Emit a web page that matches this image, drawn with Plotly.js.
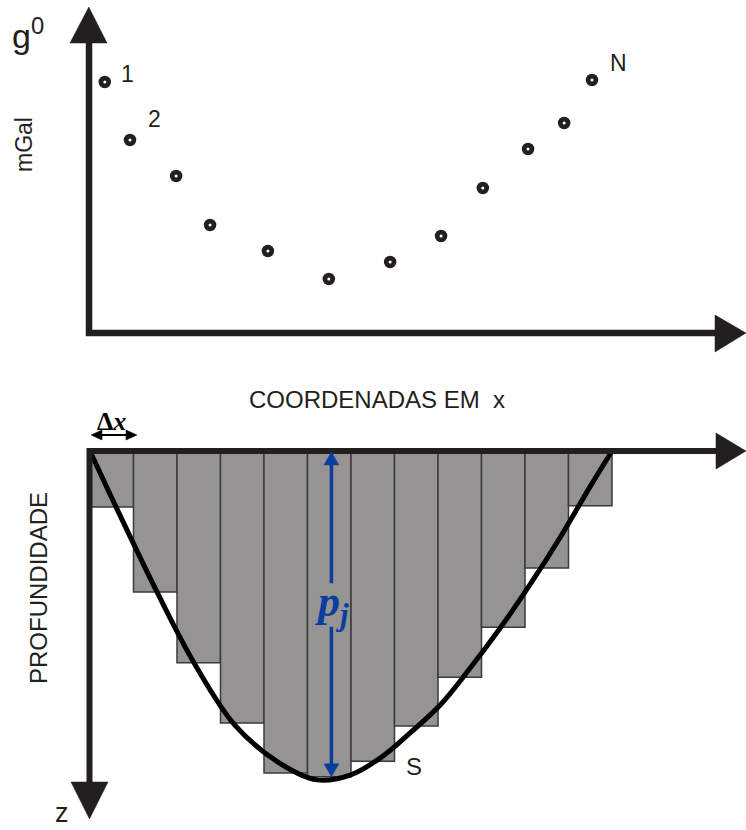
<!DOCTYPE html>
<html>
<head>
<meta charset="utf-8">
<script src="https://cdn.plot.ly/plotly-3.0.1.min.js"></script>
<style>
  html, body { margin: 0; padding: 0; background: #ffffff; }
  #chart { width: 746px; height: 830px; }
</style>
</head>
<body>
<div id="chart"></div>
<script>
// Gravity stations: horizontal coordinate (units of Δx) and observed anomaly g0
const stationX = [0.34, 0.92, 1.98, 2.76, 4.09, 5.49, 6.90, 8.07, 9.03, 10.07, 10.90, 11.54];
const gravity  = [25.1, 19.3, 15.7, 10.8, 8.2, 5.4, 7.1, 9.7, 14.5, 18.4, 21.0, 25.3];
const stationLabels = ['1', '2', 'N'];
const labelledStations = [0, 1, 11];

// Prism columns: centre of each Δx-wide column and its depth p
const prismX = [0.5, 1.5, 2.5, 3.5, 4.5, 5.5, 6.5, 7.5, 8.5, 9.5, 10.5, 11.5];
const prismDepth = [1.29, 3.24, 4.87, 6.25, 7.40, 7.49, 7.13, 6.32, 5.20, 4.05, 2.69, 1.26];

// Basement surface S
const surfaceX = [0.00, 0.60, 1.54, 2.41, 3.33, 4.32, 5.22, 5.98, 6.67, 7.36, 8.05, 8.74, 9.43, 10.11, 10.80, 11.49, 12.00];
const surfaceDepth = [0.00, 1.29, 3.24, 4.90, 6.30, 7.15, 7.56, 7.45, 7.06, 6.48, 5.84, 4.99, 4.07, 3.08, 2.00, 0.83, 0.00];

// Column j highlighted with its depth arrow
const jIndex = 5;

const W = 746, H = 830;
const INK = '#231f20';
const BLUE = '#0a3d9e';
const px = x => x / W;
const py = y => 1 - y / H;

const traces = [
  {
    type: 'bar', x: prismX, y: prismDepth, base: 0, width: 1,
    xaxis: 'x', yaxis: 'y2',
    marker: { color: '#959492', line: { color: '#3a3a3a', width: 1.5 } },
    hoverinfo: 'skip'
  },
  {
    type: 'scatter', mode: 'lines', x: surfaceX, y: surfaceDepth,
    xaxis: 'x', yaxis: 'y2',
    line: { color: '#000000', width: 5, shape: 'spline', smoothing: 1 },
    hoverinfo: 'skip'
  },
  {
    type: 'scatter', mode: 'markers', x: stationX, y: gravity,
    xaxis: 'x', yaxis: 'y',
    marker: { color: INK, size: 12.5 },
    hoverinfo: 'skip'
  },
  {
    type: 'scatter', mode: 'markers', x: stationX, y: gravity,
    xaxis: 'x', yaxis: 'y',
    marker: { color: '#ffffff', size: 3 },
    hoverinfo: 'skip'
  }
];

// Axis arrows and symbols
const shapes = [];
function seg(x0, y0, x1, y1, width, color) {
  shapes.push({ type: 'line', xref: 'paper', yref: 'paper',
    x0: px(x0), y0: py(y0), x1: px(x1), y1: py(y1),
    line: { color: color, width: width } });
}
function tri(pts, color) {
  const d = 'M ' + pts.map(p => px(p[0]) + ',' + py(p[1])).join(' L ') + ' Z';
  shapes.push({ type: 'path', xref: 'paper', yref: 'paper', path: d,
    fillcolor: color, line: { color: color, width: 0.5 } });
}

// upper panel axes
seg(89, 336, 89, 40, 6.5, INK);
tri([[70, 43], [88.8, 7], [107, 43]], INK);
seg(86, 333, 718, 333, 6.5, INK);
tri([[715, 315], [746, 333], [715, 352]], INK);

// lower panel axes
seg(87, 451, 720, 451, 6, INK);
tri([[716, 433], [746, 451], [716, 469]], INK);
seg(89.5, 448, 89.5, 785, 6, INK);
tri([[71, 782], [89.5, 819], [108, 782]], INK);

// Δx double arrow
seg(98, 435, 130, 435, 2, '#000');
tri([[91, 435], [102, 430], [102, 440]], '#000');
tri([[137, 435], [126, 430], [126, 440]], '#000');

// depth arrow of column j, drawn in data units
const ax = prismX[jIndex] + 0.05;
const labelDepth = 3.54, gap = 0.5, headL = 0.3, headW = 0.17;
const pj = prismDepth[jIndex];
shapes.push({ type: 'line', xref: 'x', yref: 'y2', x0: ax, x1: ax, y0: 0.25, y1: labelDepth - gap,
  line: { color: BLUE, width: 3.5 } });
shapes.push({ type: 'line', xref: 'x', yref: 'y2', x0: ax, x1: ax, y0: labelDepth + gap, y1: pj - 0.25,
  line: { color: BLUE, width: 3.5 } });
shapes.push({ type: 'path', xref: 'x', yref: 'y2',
  path: `M ${ax - headW},${0.02 + headL} L ${ax},0.02 L ${ax + headW},${0.02 + headL} Z`,
  fillcolor: BLUE, line: { color: BLUE, width: 0.5 } });
shapes.push({ type: 'path', xref: 'x', yref: 'y2',
  path: `M ${ax - headW},${pj - headL} L ${ax},${pj} L ${ax + headW},${pj - headL} Z`,
  fillcolor: BLUE, line: { color: BLUE, width: 0.5 } });

const SANS = 'Liberation Sans, Arial, sans-serif';
const SERIF = 'Liberation Serif, Times New Roman, serif';
function label(text, x, y, size, opts) {
  return Object.assign({
    text: text, xref: 'paper', yref: 'paper', x: px(x), y: py(y),
    xanchor: 'center', yanchor: 'middle', showarrow: false,
    font: { family: SANS, size: size, color: INK }
  }, opts || {});
}

const annotations = [
  label('g<sup>0</sup>', 28, 33, 34),
  label('mGal', 24, 145, 23, { textangle: -90 }),
  label('COORDENADAS EM  x', 377, 399, 24),
  label('PROFUNDIDADE', 38, 588, 24, { textangle: -90 }),
  label('z', 62, 830, 27, { yanchor: 'bottom' }),
  label('S', 414, 766, 24),
  label('<b>Δ<i>x</i></b>', 112, 421, 26, { font: { family: SERIF, size: 26, color: '#000' } }),
  { text: '<b><i>p<sub>j</sub></i></b>', xref: 'x', yref: 'y2', x: ax, y: labelDepth,
    xanchor: 'center', yanchor: 'middle', showarrow: false,
    font: { family: SERIF, size: 44, color: BLUE } }
];

// station numbering beside the first, second and last stations
const labelShift = [[23, 8], [24, 21], [27, 17]];
labelledStations.forEach((k, i) => {
  annotations.push({
    text: stationLabels[i], xref: 'x', yref: 'y', x: stationX[k], y: gravity[k],
    xshift: labelShift[i][0], yshift: labelShift[i][1],
    xanchor: 'center', yanchor: 'middle', showarrow: false,
    font: { family: SANS, size: 23, color: INK }
  });
});

const xPerUnit = 43.5;
const layout = {
  width: W, height: H,
  margin: { l: 0, r: 0, t: 0, b: 0, pad: 0 },
  paper_bgcolor: '#ffffff', plot_bgcolor: 'rgba(0,0,0,0)',
  showlegend: false,
  xaxis: { domain: [0, 1], range: [-90 / xPerUnit, (W - 90) / xPerUnit], visible: false, fixedrange: true },
  yaxis: { domain: [0, 1], range: [-(H - 333) / 10, 333 / 10], visible: false, fixedrange: true },
  yaxis2: { domain: [0, 1], overlaying: 'y', anchor: 'x',
    range: [(H - 451) / xPerUnit, -451 / xPerUnit], visible: false, fixedrange: true },
  shapes: shapes,
  annotations: annotations
};

Plotly.newPlot('chart', traces, layout, { staticPlot: true, displayModeBar: false });
</script>
</body>
</html>
